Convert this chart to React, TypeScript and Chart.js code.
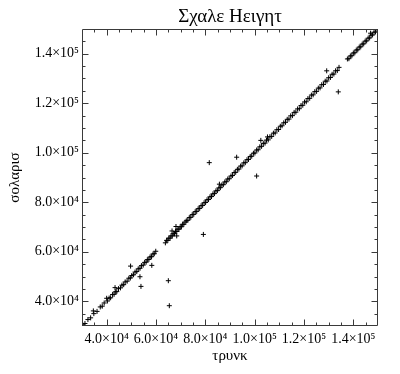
import { useEffect, useRef } from 'react';
import { Chart, registerables } from 'chart.js';

Chart.register(...registerables);

const chartTitle = 'Σχαλε Ηειγητ';
const xTitle = 'τρυνκ';
const yTitle = 'σολαρισ';

const axisMin = 30000;
const axisMax = 150000;
const majorTicks = [40000, 60000, 80000, 100000, 120000, 140000];
const majorTickLabels = ['4.0×10⁴', '6.0×10⁴', '8.0×10⁴', '1.0×10⁵', '1.2×10⁵', '1.4×10⁵'];
const minorStep = 5000;

// main diagonal band
const trunkMain = [
  30300, 31200, 32400, 33500, 34800, 36100, 37400, 38200, 39000,
  40300, 41000, 41600, 42400, 43000, 43500, 44100, 44800, 45600, 46200, 46900, 47500, 48300, 49000, 49600,
  50200, 50900, 51500, 52200, 52800, 53500, 54100, 54800, 55400, 56000, 56500, 57100, 57600, 58200, 58800, 59300, 59900,
  63800, 64300, 64800, 65200, 65700, 66100, 66600, 67000, 67500, 67900, 68400, 68900, 69300, 69800, 70300, 70800, 71300, 71800,
  72300, 72900, 73500, 74100, 74700, 75300, 75900, 76500, 77100, 77700, 78300, 78900, 79500,
  80100, 80700, 81300, 81900, 82500, 83100, 83700, 84300, 84900, 85500, 86100, 86700, 87300, 87900, 88500, 89100, 89700,
  90400, 91000, 91700, 92300, 93000, 93600, 94300, 94900, 95600, 96200, 96900, 97500, 98200, 98800, 99500,
  100100, 100800, 101400, 102100, 102800, 103500, 104200, 104800, 105500, 106200, 106900, 107600, 108300, 109000, 109700,
  110400, 111100, 111800, 112500, 113200, 113900, 114600, 115300, 116000, 116700, 117400, 118100, 118800, 119500,
  120200, 120900, 121600, 122300, 123000, 123700, 124400, 125100, 125800, 126500, 127200, 127900, 128600, 129300, 130000, 130700, 131400, 132100, 132800, 133500, 134200,
  137600, 138200, 138800, 139400, 140000, 140600, 141200, 141800, 142400, 143000, 143600, 144200, 144800, 145400, 146000, 146600, 147200, 147800, 148400, 149000, 149600,
];
const solarisMain = [
  30500, 31000, 32600, 33300, 35000, 35900, 37700, 38000, 39300,
  40100, 41300, 41400, 42700, 42800, 43800, 43900, 45100, 45400, 46500, 46700, 47800, 48100, 49300, 49400,
  50400, 50700, 51800, 52000, 53100, 53300, 54400, 54600, 55700, 55800, 56800, 56900, 57900, 58000, 59100, 59200, 60200,
  63600, 64600, 64600, 65500, 65500, 66400, 66400, 67300, 67300, 68200, 68200, 69200, 69100, 70100, 70100, 71100, 71100, 72000,
  72500, 72700, 73800, 73900, 75000, 75100, 76200, 76300, 77400, 77500, 78600, 78700, 79800,
  79900, 81000, 81100, 82200, 82300, 83400, 83500, 84600, 84700, 85800, 85900, 87000, 87100, 88200, 88300, 89400, 89500,
  90600, 90800, 92000, 92100, 93300, 93400, 94600, 94700, 95900, 96000, 97200, 97300, 98500, 98600, 99800,
  99900, 101100, 101200, 102400, 102600, 103700, 103900, 105100, 105200, 106500, 106600, 107900, 108000, 109300, 109400,
  110700, 110900, 112100, 112300, 113500, 113600, 114900, 115000, 116300, 116400, 117700, 117800, 119100, 119200,
  120500, 120600, 121900, 122000, 123300, 123400, 124700, 124800, 126100, 126200, 127500, 127600, 128900, 129000, 130300, 130400, 131700, 131800, 133100, 133200, 134500,
  137900, 138000, 139100, 139200, 140300, 140400, 141500, 141600, 142700, 142800, 143900, 144000, 145100, 145200, 146300, 146400, 147500, 147600, 148700, 148800, 149900,
];

// scattered points off the band
const trunkOff = [34600, 40000, 43400, 49700, 53500, 53900, 58300, 65000, 65400, 66500, 68100, 68400, 79200, 81600, 85700, 92700, 100800, 102500, 105200, 129200, 133900, 147000];
const solarisOff = [36100, 41200, 45500, 54200, 49900, 46000, 54500, 48300, 38200, 68400, 70200, 66400, 67000, 96000, 87300, 98200, 90600, 105000, 106400, 133100, 124600, 148300];

const FONT = '"Liberation Serif", "Times New Roman", Times, serif';

const frameTicks = {
  id: 'frameTicks',
  afterDraw(chart: any) {
    const { ctx, chartArea: a, scales } = chart;
    const xs = scales.x;
    const ys = scales.y;
    const L = Math.round(a.left) + 0.5;
    const R = Math.round(a.right) - 0.5;
    const T = Math.round(a.top) + 0.5;
    const B = Math.round(a.bottom) - 0.5;
    ctx.save();
    ctx.strokeStyle = '#3a3a3a';
    ctx.lineWidth = 1;
    ctx.beginPath();
    ctx.rect(L, T, R - L, B - T);
    for (let v = axisMin + minorStep; v < axisMax; v += minorStep) {
      const len = majorTicks.includes(v) ? 6 : 3;
      const px = Math.round(xs.getPixelForValue(v)) + 0.5;
      ctx.moveTo(px, B);
      ctx.lineTo(px, B - len);
      ctx.moveTo(px, T);
      ctx.lineTo(px, T + len);
      const py = Math.round(ys.getPixelForValue(v)) + 0.5;
      ctx.moveTo(L, py);
      ctx.lineTo(L + len, py);
      ctx.moveTo(R, py);
      ctx.lineTo(R - len, py);
    }
    ctx.stroke();
    ctx.restore();
  },
};

const labelFor = (v: number) => {
  const i = majorTicks.indexOf(v);
  return i >= 0 ? majorTickLabels[i] : '';
};

export default function App() {
  const ref = useRef<HTMLCanvasElement | null>(null);
  useEffect(() => {
    if (!ref.current) return;
    const points = [
      ...trunkMain.map((x, i) => ({ x, y: solarisMain[i] })),
      ...trunkOff.map((x, i) => ({ x, y: solarisOff[i] })),
    ];
    const chart = new Chart(ref.current, {
      type: 'scatter',
      data: {
        datasets: [
          {
            data: points,
            pointStyle: 'cross',
            pointRadius: 2.5,
            pointHoverRadius: 2.5,
            borderColor: '#000',
            backgroundColor: '#000',
            borderWidth: 1,
          },
        ],
      },
      options: {
        animation: false,
        responsive: false,
        devicePixelRatio: 1,
        layout: { padding: { left: 0, right: 22, top: 0, bottom: 0 } },
        plugins: {
          legend: { display: false },
          tooltip: { enabled: false },
          title: {
            display: true,
            text: chartTitle,
            fullSize: false,
            color: '#000',
            font: { family: FONT, size: 19, weight: 'normal' },
            padding: { top: 6, bottom: 0.2 },
          },
        },
        scales: {
          x: {
            type: 'linear',
            min: axisMin,
            max: axisMax,
            afterFit: (s: any) => { s.height = 48; },
            afterBuildTicks: (s: any) => { s.ticks = majorTicks.map((v) => ({ value: v })); },
            ticks: {
              autoSkip: false,
              maxRotation: 0,
              padding: 5,
              color: '#000',
              font: { family: FONT, size: 14 },
              callback: (v: any) => labelFor(Number(v)),
            },
            grid: { display: false, drawTicks: false, tickLength: 0 },
            border: { display: false },
            title: {
              display: true,
              text: xTitle,
              color: '#000',
              font: { family: FONT, size: 15 },
              padding: { top: 0, bottom: 9 },
            },
          },
          y: {
            type: 'linear',
            min: axisMin,
            max: axisMax,
            afterFit: (s: any) => { s.width = 82; },
            afterBuildTicks: (s: any) => { s.ticks = majorTicks.map((v) => ({ value: v })); },
            ticks: {
              autoSkip: false,
              padding: 3,
              color: '#000',
              font: { family: FONT, size: 14 },
              callback: (v: any) => labelFor(Number(v)),
            },
            grid: { display: false, drawTicks: false, tickLength: 0 },
            border: { display: false },
            title: {
              display: true,
              text: yTitle,
              color: '#000',
              font: { family: FONT, size: 15 },
              padding: { top: 6, bottom: 0 },
            },
          },
        },
      },
      plugins: [frameTicks],
    } as any);
    return () => chart.destroy();
  }, []);
  return (
    <div style={{ position: 'absolute', left: 0, top: 0, width: 400, height: 374, background: '#fff' }}>
      <canvas ref={ref} width={400} height={374} style={{ display: 'block' }} />
    </div>
  );
}
